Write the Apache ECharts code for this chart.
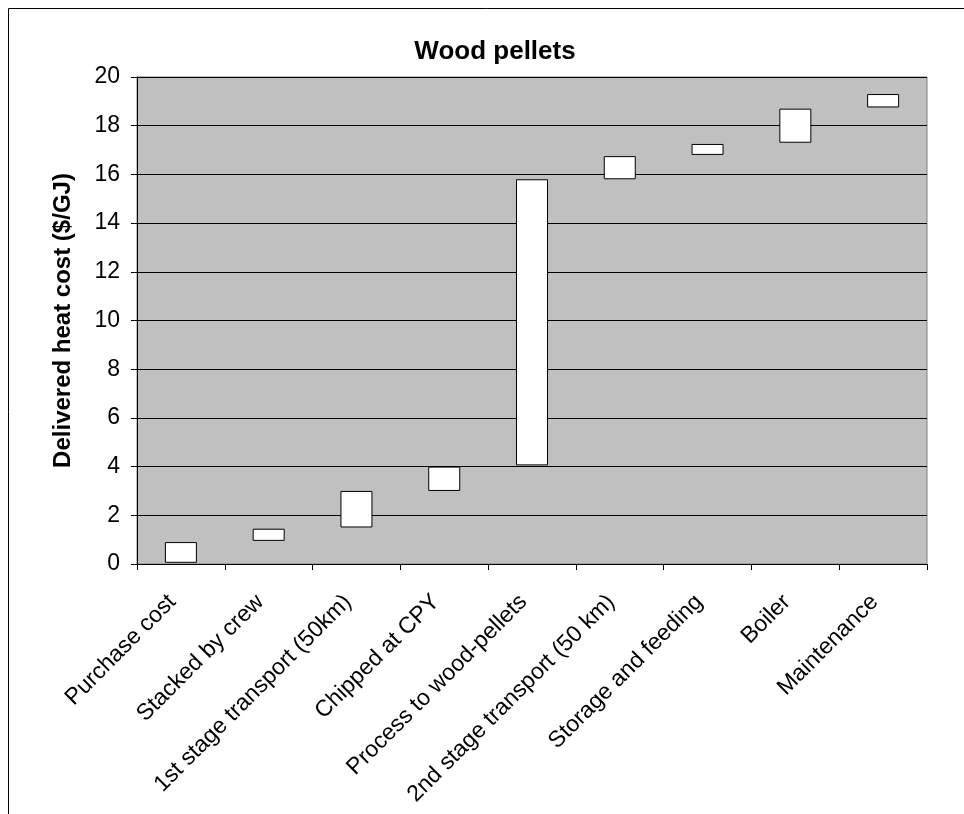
<!DOCTYPE html>
<html>
<head>
<meta charset="utf-8">
<script src="https://cdn.jsdelivr.net/npm/echarts@6/dist/echarts.min.js"></script>
<style>
  html, body { margin: 0; padding: 0; background: #fff; }
  #chart { width: 964px; height: 814px; }
</style>
</head>
<body>
<div id="chart"></div>
<script>
// Cost stages of delivered heat from wood pellets ($/GJ)
const categories = [
  'Purchase cost',
  'Stacked by crew',
  '1st stage transport (50km)',
  'Chipped at CPY',
  'Process to wood-pellets',
  '2nd stage transport (50 km)',
  'Storage and feeding',
  'Boiler',
  'Maintenance'
];
// Lower and upper end of each floating bar
const lows  = [0.05, 0.95, 1.5, 3.0, 4.05, 15.8, 16.8, 17.3, 18.75];
const highs = [0.9, 1.45, 3.0, 4.0, 15.8, 16.75, 17.25, 18.7, 19.3];
const yTicks = { min: 0, max: 20, interval: 2 };

const FONT = '"Liberation Sans", Arial, sans-serif';
const spans = highs.map((h, i) => +(h - lows[i]).toFixed(4));

const chart = echarts.init(document.getElementById('chart'), null, { renderer: 'canvas' });
chart.setOption({
  animation: false,
  backgroundColor: '#ffffff',
  title: {
    text: 'Wood pellets',
    left: 490,
    top: 34,
    textAlign: 'center',
    textStyle: { fontFamily: FONT, fontSize: 26, fontWeight: 'bold', color: '#000' }
  },
  graphic: [{
    type: 'rect',
    shape: { x: 8.5, y: 8.5, width: 1000, height: 1000 },
    style: { fill: 'none', stroke: '#000', lineWidth: 1 },
    silent: true,
    z: 0
  }],
  grid: {
    left: 137, right: 37, top: 77, bottom: 250,
    show: true,
    backgroundColor: '#C0C0C0',
    borderColor: '#808080',
    borderWidth: 1
  },
  xAxis: {
    type: 'category',
    data: categories,
    boundaryGap: true,
    axisLine: { show: true, lineStyle: { color: '#000', width: 1 } },
    axisTick: { show: true, length: 6, lineStyle: { color: '#000' } },
    axisLabel: {
      interval: 0,
      rotate: 45,
      margin: 26,
      padding: [0, 12, 0, 0],
      fontFamily: FONT,
      fontSize: 23,
      color: '#000'
    }
  },
  yAxis: {
    type: 'value',
    min: yTicks.min,
    max: yTicks.max,
    interval: yTicks.interval,
    name: 'Delivered heat cost ($/GJ)',
    nameLocation: 'middle',
    nameGap: 62,
    nameRotate: 90,
    nameTextStyle: { fontFamily: FONT, fontSize: 24, fontWeight: 'bold', color: '#000' },
    axisLine: { show: true, lineStyle: { color: '#000', width: 1 } },
    axisTick: { show: true, length: 6, lineStyle: { color: '#000' } },
    axisLabel: { margin: 17, fontFamily: FONT, fontSize: 23, color: '#000' },
    splitLine: { show: true, lineStyle: { color: '#000', width: 1 } }
  },
  series: [
    {
      type: 'bar',
      stack: 'cost',
      data: lows,
      barWidth: 32,
      itemStyle: { color: 'rgba(0,0,0,0)' },
      silent: true
    },
    {
      type: 'bar',
      stack: 'cost',
      data: spans,
      barWidth: 32,
      itemStyle: { color: '#ffffff', borderColor: '#000', borderWidth: 1 }
    }
  ]
});
</script>
</body>
</html>
